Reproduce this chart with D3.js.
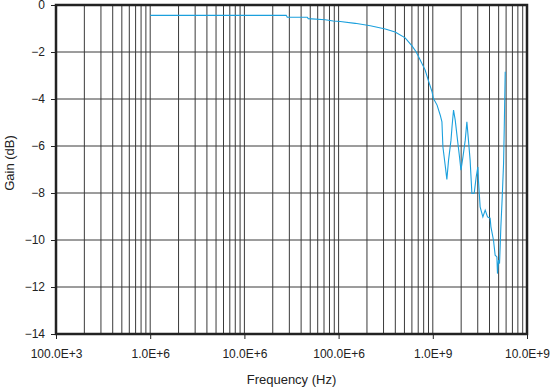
<!DOCTYPE html>
<html lang="en">

<head>
    <meta charset="UTF-8">
    <title>Gain vs Frequency</title>
    <script src="https://cdn.jsdelivr.net/npm/d3@7/dist/d3.min.js"></script>
    <style>
        body { margin: 0; background: #fff; }
        text { font-family: "Liberation Sans", Arial, sans-serif; fill: #222; }
    </style>
</head>

<body>
    <div id="svg"></div>

    <script>
        // frequency (Hz) and gain (dB)
        const freq = [1e6, 2.78e7, 2.85e7, 4.65e7, 4.76e7, 7.21e7, 8.77e7, 1.04e8, 1.50e8, 2.17e8,
            3.13e8, 3.98e8, 5.09e8, 6.04e8, 6.67e8, 7.35e8, 8.30e8, 8.93e8, 9.84e8, 1.01e9,
            1.11e9, 1.20e9, 1.25e9, 1.28e9, 1.36e9, 1.41e9, 1.47e9, 1.56e9, 1.60e9, 1.66e9,
            1.73e9, 1.83e9, 1.92e9, 1.99e9, 2.09e9, 2.21e9, 2.30e9, 2.39e9, 2.49e9, 2.60e9,
            2.75e9, 2.89e9, 3.01e9, 3.05e9, 3.18e9, 3.40e9, 3.60e9, 3.81e9, 4.06e9, 4.14e9,
            4.41e9, 4.59e9, 4.79e9, 4.86e9, 4.98e9, 5.11e9, 5.28e9, 5.46e9, 5.64e9, 5.73e9, 5.87e9]
        const gain = [-0.44, -0.44, -0.52, -0.52, -0.58, -0.63, -0.68, -0.70, -0.78, -0.88,
            -1.02, -1.15, -1.40, -1.75, -2.00, -2.34, -2.77, -3.19, -3.71, -3.96,
            -4.26, -4.69, -4.97, -6.03, -6.89, -7.42, -6.60, -5.75, -5.18, -4.47,
            -4.90, -5.75, -6.46, -7.03, -6.46, -5.75, -4.97, -5.75, -6.60, -8.02,
            -8.01, -7.31, -6.89, -7.45, -8.59, -9.02, -8.73, -9.02, -9.07, -9.44,
            -10.01, -10.65, -10.72, -11.43, -10.86, -11.00, -9.44, -8.16, -6.74, -5.32, -2.84]

        // tick labels
        const xTicks = [1e5, 1e6, 1e7, 1e8, 1e9, 1e10]
        const xTickLabels = ["100.0E+3", "1.0E+6", "10.0E+6", "100.0E+6", "1.0E+9", "10.0E+9"]
        const yTicks = [0, -2, -4, -6, -8, -10, -12, -14]

        const width = 552
        const height = 387
        const padding = { top: 5, left: 56, right: 25, bottom: 53 }

        const svg = d3.select("#svg").append("svg").attr("width", width).attr("height", height)

        const x = d3.scaleLog().domain([1e5, 1e10]).range([padding.left, width - padding.right])
        const y = d3.scaleLinear().domain([-14, 0]).range([height - padding.bottom, padding.top])

        // minor + major vertical grid lines
        const gridX = []
        for (let e = 5; e < 10; e++) {
            for (let m = 1; m < 10; m++) gridX.push(m * Math.pow(10, e))
        }
        svg.append("g").selectAll("line").data(gridX).enter().append("line")
            .attr("x1", d => x(d)).attr("x2", d => x(d))
            .attr("y1", y(-14)).attr("y2", y(0))
            .attr("stroke", "#3a3a3a").attr("stroke-width", 1)

        svg.append("g").selectAll("line").data(yTicks).enter().append("line")
            .attr("x1", x(1e5)).attr("x2", x(1e10))
            .attr("y1", d => y(d)).attr("y2", d => y(d))
            .attr("stroke", "#3a3a3a").attr("stroke-width", 1)

        // axes
        const fmtY = d => d < 0 ? "\u2212" + Math.abs(d) : String(d)
        const yAxis = svg.append("g").attr("transform", `translate(${padding.left},0)`)
            .call(d3.axisLeft(y).tickValues(yTicks).tickFormat(fmtY).tickSize(5).tickPadding(6))
        const xAxis = svg.append("g").attr("transform", `translate(0,${y(-14)})`)
            .call(d3.axisBottom(x).tickValues(xTicks).tickFormat((d, i) => xTickLabels[i]).tickSize(5).tickPadding(10))
        ;[xAxis, yAxis].forEach(g => {
            g.select(".domain").remove()
            g.selectAll("line").attr("stroke", "#222")
            g.selectAll("text").attr("font-size", "12px").attr("fill", "#222")
                .attr("font-family", "Liberation Sans, Arial, sans-serif")
        })

        // curve
        const pts = freq.map((f, i) => [f, gain[i]])
        svg.append("path").datum(pts)
            .attr("fill", "none").attr("stroke", "#1ba0dd").attr("stroke-width", 1.1)
            .attr("d", d3.line().x(d => x(d[0])).y(d => y(d[1])))

        // frame
        svg.append("rect")
            .attr("x", x(1e5)).attr("y", y(0))
            .attr("width", x(1e10) - x(1e5)).attr("height", y(-14) - y(0))
            .attr("fill", "none").attr("stroke", "#222").attr("stroke-width", 2.5)

        // axis titles
        svg.append("text").attr("x", (x(1e5) + x(1e10)) / 2).attr("y", 384)
            .attr("text-anchor", "middle").attr("font-size", "13px").text("Frequency (Hz)")
        svg.append("text").attr("transform", "translate(14,163) rotate(-90)")
            .attr("text-anchor", "middle").attr("font-size", "13px").text("Gain (dB)")
    </script>
</body>

</html>
